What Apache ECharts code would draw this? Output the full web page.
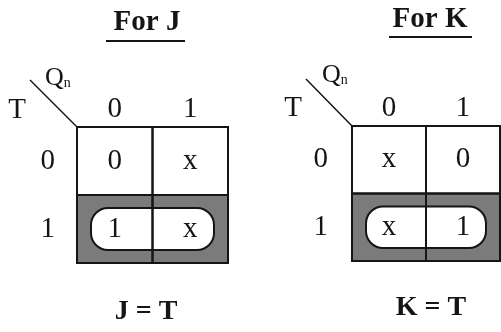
<!DOCTYPE html>
<html>
<head>
<meta charset="utf-8">
<script src="https://cdn.jsdelivr.net/npm/echarts@6/dist/echarts.min.js"></script>
<style>html,body{margin:0;padding:0;background:#fff}#c{width:501px;height:332px}</style>
</head>
<body>
<div id="c"></div>
<script>
// ---- data ----
const colLabels = ['0', '1'];          // Qn
const rowLabels = ['0', '1'];          // T
const jCells = [['0', 'x'], ['1', 'x']];
const kCells = [['x', '0'], ['x', '1']];
const shadedRows = [1];
const jLoop = [0, 1, 1];               // [fromCol, toCol, row]
const kLoop = [0, 1, 1];
const titles = ['For J', 'For K'];
const results = ['J = T', 'K = T'];

const FONT = 'Liberation Serif, Times New Roman, serif';
const INK = '#151515';
const GRAY = '#7b7b7b';

function cellData() {
  const d = [];
  for (let r = 0; r < rowLabels.length; r++)
    for (let c = 0; c < colLabels.length; c++) d.push([c, r]);
  return d;
}

function fillSeries(g) {
  return {
    type: 'custom', xAxisIndex: g, yAxisIndex: g, data: cellData(), z: 2, silent: true, clip: false,
    renderItem: (p, api) => {
      const c = api.value(0), r = api.value(1);
      const pt = api.coord([c, r]), sz = api.size([1, 1]);
      return { type: 'rect', shape: { x: pt[0] - sz[0] / 2, y: pt[1] - sz[1] / 2, width: sz[0], height: sz[1] },
        style: { fill: shadedRows.indexOf(r) >= 0 ? GRAY : '#fff' } };
    }
  };
}

function loopSeries(g, loop) {
  return {
    type: 'custom', xAxisIndex: g, yAxisIndex: g, data: [loop], z: 3, silent: true, clip: false,
    renderItem: (p, api) => {
      const a = api.coord([api.value(0), api.value(2)]);
      const b = api.coord([api.value(1), api.value(2)]);
      const sz = api.size([1, 1]);
      const x0 = a[0] - sz[0] / 2 + 14, x1 = b[0] + sz[0] / 2 - 14;
      const y0 = a[1] - sz[1] / 2 + 13, y1 = a[1] + sz[1] / 2 - 13;
      return { type: 'rect', shape: { x: x0, y: y0, width: x1 - x0, height: y1 - y0, r: 17 },
        style: { fill: '#fff', stroke: INK, lineWidth: 2 } };
    }
  };
}

function gridSeries(g, cells) {
  return {
    type: 'custom', xAxisIndex: g, yAxisIndex: g, data: cellData(), z: 4, silent: true, clip: false,
    renderItem: (p, api) => {
      const c = api.value(0), r = api.value(1);
      const pt = api.coord([c, r]), sz = api.size([1, 1]);
      return { type: 'group', children: [
        { type: 'rect', shape: { x: pt[0] - sz[0] / 2, y: pt[1] - sz[1] / 2, width: sz[0], height: sz[1] },
          style: { fill: 'none', stroke: INK, lineWidth: 2 } },
        { type: 'text', style: { x: pt[0], y: pt[1], text: cells[r][c], align: 'center', verticalAlign: 'middle',
          font: '29px ' + FONT, fill: INK } }
      ] };
    }
  };
}

const axisLbl = { fontFamily: FONT, fontSize: 29, color: INK };
const chart = echarts.init(document.getElementById('c'));
chart.setOption({
  animation: false,
  grid: [
    { left: 77, top: 127, width: 151, height: 136, show: false },
    { left: 352, top: 126, width: 148, height: 135, show: false }
  ],
  xAxis: [0, 1].map(i => ({ type: 'category', gridIndex: i, data: colLabels, position: 'top',
    axisLine: { show: false }, axisTick: { show: false }, splitLine: { show: false },
    axisLabel: Object.assign({ margin: 3 }, axisLbl) })),
  yAxis: [0, 1].map(i => ({ type: 'category', gridIndex: i, data: rowLabels, inverse: true,
    axisLine: { show: false }, axisTick: { show: false }, splitLine: { show: false },
    axisLabel: Object.assign({ margin: i === 0 ? 22 : 24 }, axisLbl) })),
  series: [
    fillSeries(0), loopSeries(0, jLoop), gridSeries(0, jCells),
    fillSeries(1), loopSeries(1, kLoop), gridSeries(1, kCells)
  ],
  graphic: [
    // titles
    { type: 'text', style: { x: 147, y: 23, text: titles[0], align: 'center', verticalAlign: 'middle', font: 'bold 29px ' + FONT, fill: INK } },
    { type: 'line', shape: { x1: 106, y1: 41, x2: 185, y2: 41 }, style: { stroke: INK, lineWidth: 2 } },
    { type: 'text', style: { x: 430, y: 20, text: titles[1], align: 'center', verticalAlign: 'middle', font: 'bold 29px ' + FONT, fill: INK } },
    { type: 'line', shape: { x1: 389, y1: 37, x2: 472, y2: 37 }, style: { stroke: INK, lineWidth: 2 } },
    // corner labels
    { type: 'text', style: { x: 17, y: 110, text: 'T', align: 'center', verticalAlign: 'middle', font: '29px ' + FONT, fill: INK } },
    { type: 'text', style: { x: 293, y: 108, text: 'T', align: 'center', verticalAlign: 'middle', font: '29px ' + FONT, fill: INK } },
    { type: 'text', style: { x: 45, y: 78, text: '{q|Q}{n|n}', verticalAlign: 'middle', fill: INK,
      rich: { q: { fontFamily: FONT, fontSize: 26, color: INK }, n: { fontFamily: FONT, fontSize: 14, color: INK, padding: [10, 0, 0, 0] } } } },
    { type: 'text', style: { x: 322, y: 75, text: '{q|Q}{n|n}', verticalAlign: 'middle', fill: INK,
      rich: { q: { fontFamily: FONT, fontSize: 26, color: INK }, n: { fontFamily: FONT, fontSize: 14, color: INK, padding: [10, 0, 0, 0] } } } },
    { type: 'line', shape: { x1: 30, y1: 80, x2: 77, y2: 127 }, style: { stroke: INK, lineWidth: 1.5 } },
    { type: 'line', shape: { x1: 306, y1: 79, x2: 352, y2: 126 }, style: { stroke: INK, lineWidth: 1.5 } },
    // results
    { type: 'text', style: { x: 146, y: 312, text: results[0], align: 'center', verticalAlign: 'middle', font: 'bold 28px ' + FONT, fill: INK } },
    { type: 'text', style: { x: 431, y: 308, text: results[1], align: 'center', verticalAlign: 'middle', font: 'bold 28px ' + FONT, fill: INK } }
  ]
});
</script>
</body>
</html>
